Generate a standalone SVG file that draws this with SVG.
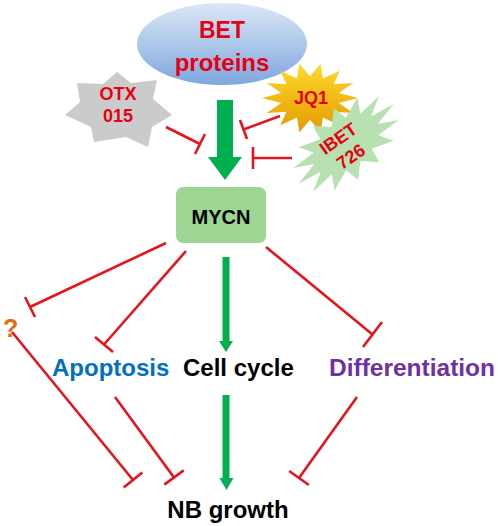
<svg xmlns="http://www.w3.org/2000/svg" width="498" height="526" viewBox="0 0 498 526">
<style>
text{font-family:"Liberation Sans",Arial,sans-serif;font-weight:bold}
.red{fill:#e60012}
.inh{stroke:#e8141c;stroke-width:2.6;fill:none;stroke-linecap:butt}
.act{fill:#00b050}
</style>
<defs>
<linearGradient id="gBet" x1="0" y1="0" x2="0" y2="1">
<stop offset="0" stop-color="#dbe7f6"/>
<stop offset="1" stop-color="#7ea8de"/>
</linearGradient>
<linearGradient id="gJq" x1="0" y1="0" x2="0" y2="1">
<stop offset="0" stop-color="#ffd92e"/>
<stop offset="1" stop-color="#e39c00"/>
</linearGradient>
<polygon id="star" points="100,0 60,14 90,43 49,39 62,78 27,56 22,98 0,62 -22,98 -27,56 -62,78 -49,39 -90,43 -60,14 -100,0 -60,-14 -90,-43 -49,-39 -62,-78 -27,-56 -22,-98 0,-62 22,-98 27,-56 62,-78 49,-39 90,-43 60,-14"/>
</defs>
<rect width="498" height="526" fill="#fff"/>

<g id="bet">
<ellipse cx="222" cy="44" rx="85" ry="41" fill="url(#gBet)"/>
<text class="red" x="222" y="38" font-size="23" text-anchor="middle">BET</text>
<text class="red" x="222" y="71" font-size="24" text-anchor="middle">proteins</text>
</g>

<g id="otx015">
<polygon points="117,72 131,83 157,80 153,99 172,115 152,127 148,147 126,137 94,142 91,127 65,115 80,102 77,83 103,84" fill="#cbcbcb"/>
<text class="red" x="118" y="100" font-size="18" text-anchor="middle">OTX</text>
<text class="red" x="118" y="122" font-size="18" text-anchor="middle">015</text>
</g>

<g id="jq1">
<use href="#star" transform="translate(310,98) scale(0.48,0.35)" fill="url(#gJq)"/>
<text class="red" x="311" y="104" font-size="18" text-anchor="middle">JQ1</text>
</g>

<g id="ibet726">
<use href="#star" transform="translate(346,144) rotate(-40) scale(0.62,0.36)" fill="#b7e1b1"/>
<g transform="translate(344,147) rotate(-35)">
<text class="red" x="0" y="-4" font-size="18" text-anchor="middle">IBET</text>
<text class="red" x="0" y="18" font-size="18" text-anchor="middle">726</text>
</g>
</g>

<g id="mycn">
<rect x="176" y="187" width="90" height="56" rx="7" fill="#9dd592"/>
<text x="221" y="224" font-size="20" text-anchor="middle" fill="#000">MYCN</text>
</g>

<g id="question"><text x="3" y="337" font-size="25" fill="#e46c0a">?</text></g>
<g id="apoptosis"><text x="52" y="376" font-size="24" fill="#0070c0">Apoptosis</text></g>
<g id="cellcycle"><text x="183" y="376" font-size="24" fill="#000">Cell cycle</text></g>
<g id="differentiation"><text x="412" y="376" font-size="24.5" fill="#7030a0" text-anchor="middle">Differentiation</text></g>
<g id="nbgrowth"><text x="228" y="518" font-size="24" fill="#000" text-anchor="middle">NB growth</text></g>

<g id="connectors">
<polygon class="act" points="217,100 233,100 233,157 242,157 225,180 208,157 217,157"/>
<polygon class="act" points="222.5,257 229.5,257 229.5,341 233,341 226,352 219,341 222.5,341"/>
<polygon class="act" points="222.5,395 229.5,395 229.5,478 233.5,478 226.5,490 219.5,478 222.5,478"/>

<path class="inh" d="M166,127 L200,144 M195,154 L205,134"/>
<path class="inh" d="M280,116 L243.5,129.5 M240,120 L247,139"/>
<path class="inh" d="M292,158 L253,158 M253,147 L253,169"/>

<path class="inh" d="M166,243 L30,307 M25,297 L35,317"/>
<path class="inh" d="M186,251 L104,344.5 M95,337 L113,352"/>
<path class="inh" d="M266,247 L372.5,334.5 M382,322 L363,347"/>

<path class="inh" d="M12,332 L133,480 M123.7,487.6 L142.3,472.4"/>
<path class="inh" d="M115,397 L174,477.5 M164.3,484.6 L183.7,470.4"/>
<path class="inh" d="M357,397 L299,478 M289.2,471 L308.8,485"/>
</g>
</svg>
